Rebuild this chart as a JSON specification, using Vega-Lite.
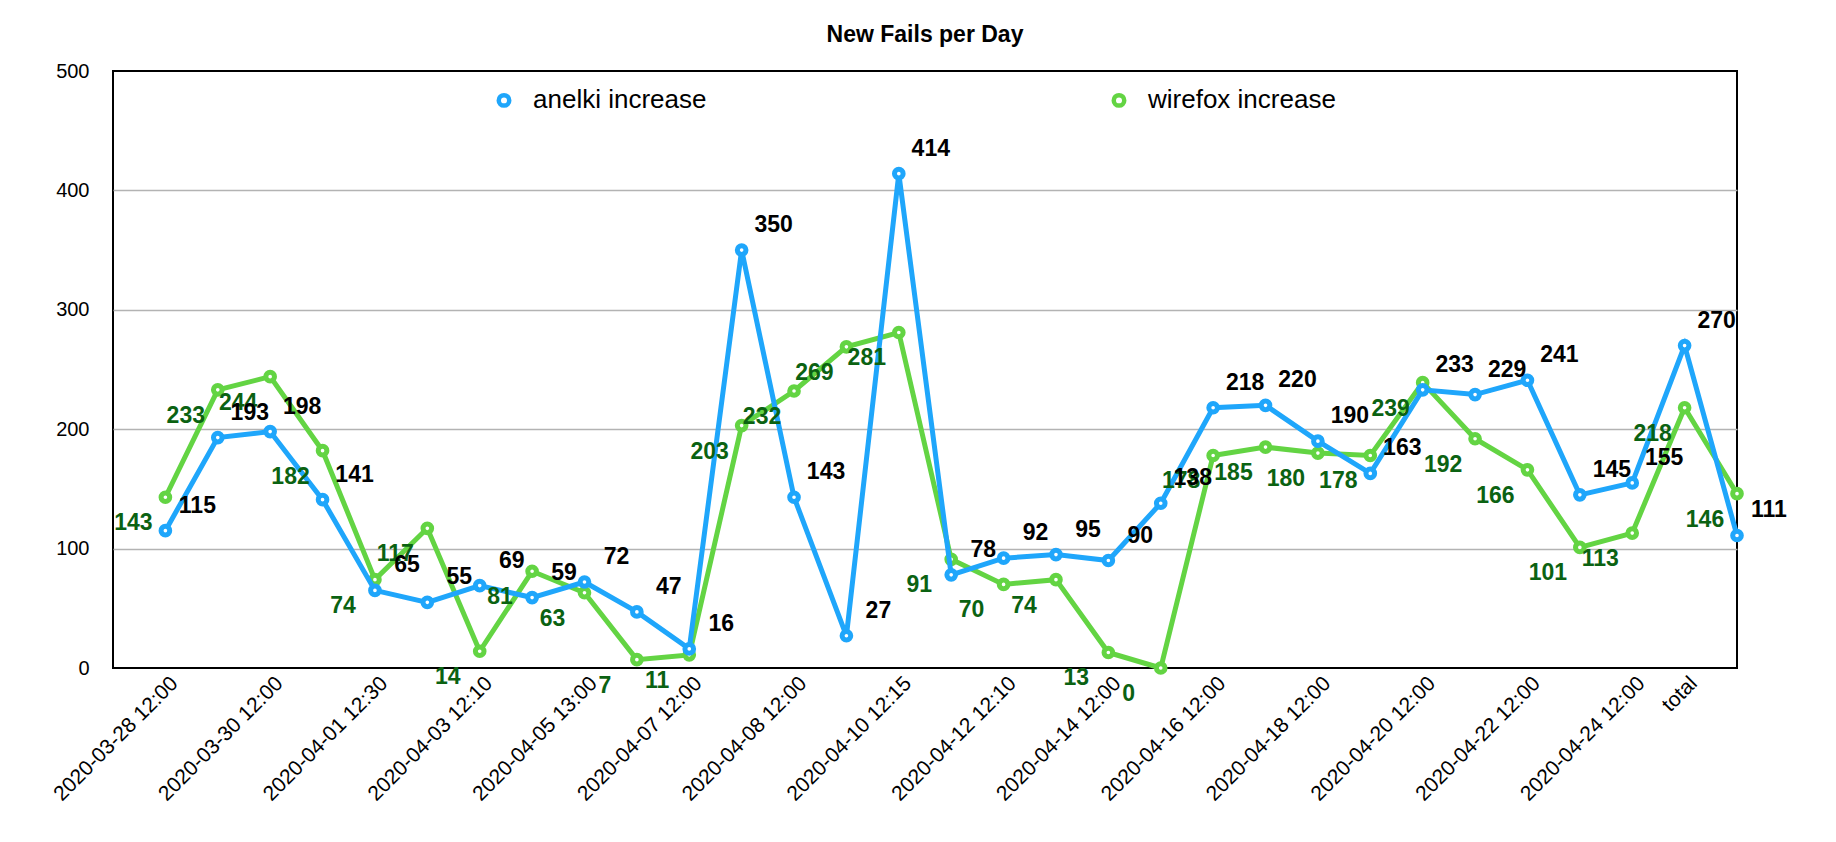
{
  "$schema": "https://vega.github.io/schema/vega-lite/v6.json",
  "width": 1624,
  "height": 597,
  "autosize": {"type": "none"},
  "padding": {"left": 113, "top": 71, "right": 99, "bottom": 174},
  "title": {
    "text": "New Fails per Day",
    "font": "Liberation Sans",
    "fontSize": 23,
    "fontWeight": "bold",
    "color": "black",
    "anchor": "middle",
    "baseline": "alphabetic",
    "offset": -4
  },
  "config": {
    "font": "Liberation Sans",
    "view": {"stroke": "black", "strokeWidth": 2}
  },
  "data": {
    "values": [
      {"time": "2020-03-28 12:00", "series": "anelki increase", "fails": 115},
      {"time": "2020-03-29 12:00", "series": "anelki increase", "fails": 193},
      {"time": "2020-03-30 12:00", "series": "anelki increase", "fails": 198},
      {"time": "2020-03-31 12:00", "series": "anelki increase", "fails": 141},
      {"time": "2020-04-01 12:30", "series": "anelki increase", "fails": 65},
      {"time": "2020-04-02 12:00", "series": "anelki increase", "fails": 55},
      {"time": "2020-04-03 12:10", "series": "anelki increase", "fails": 69},
      {"time": "2020-04-04 12:00", "series": "anelki increase", "fails": 59},
      {"time": "2020-04-05 13:00", "series": "anelki increase", "fails": 72},
      {"time": "2020-04-06 12:00", "series": "anelki increase", "fails": 47},
      {"time": "2020-04-07 12:00", "series": "anelki increase", "fails": 16},
      {"time": "2020-04-07 18:00", "series": "anelki increase", "fails": 350},
      {"time": "2020-04-08 12:00", "series": "anelki increase", "fails": 143},
      {"time": "2020-04-09 12:00", "series": "anelki increase", "fails": 27},
      {"time": "2020-04-10 12:15", "series": "anelki increase", "fails": 414},
      {"time": "2020-04-11 12:00", "series": "anelki increase", "fails": 78},
      {"time": "2020-04-12 12:10", "series": "anelki increase", "fails": 92},
      {"time": "2020-04-13 12:00", "series": "anelki increase", "fails": 95},
      {"time": "2020-04-14 12:00", "series": "anelki increase", "fails": 90},
      {"time": "2020-04-15 12:00", "series": "anelki increase", "fails": 138},
      {"time": "2020-04-16 12:00", "series": "anelki increase", "fails": 218},
      {"time": "2020-04-17 12:00", "series": "anelki increase", "fails": 220},
      {"time": "2020-04-18 12:00", "series": "anelki increase", "fails": 190},
      {"time": "2020-04-19 12:00", "series": "anelki increase", "fails": 163},
      {"time": "2020-04-20 12:00", "series": "anelki increase", "fails": 233},
      {"time": "2020-04-21 12:00", "series": "anelki increase", "fails": 229},
      {"time": "2020-04-22 12:00", "series": "anelki increase", "fails": 241},
      {"time": "2020-04-23 12:00", "series": "anelki increase", "fails": 145},
      {"time": "2020-04-24 12:00", "series": "anelki increase", "fails": 155},
      {"time": "total", "series": "anelki increase", "fails": 270},
      {"time": "2020-04-25 12:00", "series": "anelki increase", "fails": 111},
      {"time": "2020-03-28 12:00", "series": "wirefox increase", "fails": 143},
      {"time": "2020-03-29 12:00", "series": "wirefox increase", "fails": 233},
      {"time": "2020-03-30 12:00", "series": "wirefox increase", "fails": 244},
      {"time": "2020-03-31 12:00", "series": "wirefox increase", "fails": 182},
      {"time": "2020-04-01 12:30", "series": "wirefox increase", "fails": 74},
      {"time": "2020-04-02 12:00", "series": "wirefox increase", "fails": 117},
      {"time": "2020-04-03 12:10", "series": "wirefox increase", "fails": 14},
      {"time": "2020-04-04 12:00", "series": "wirefox increase", "fails": 81},
      {"time": "2020-04-05 13:00", "series": "wirefox increase", "fails": 63},
      {"time": "2020-04-06 12:00", "series": "wirefox increase", "fails": 7},
      {"time": "2020-04-07 12:00", "series": "wirefox increase", "fails": 11},
      {"time": "2020-04-07 18:00", "series": "wirefox increase", "fails": 203},
      {"time": "2020-04-08 12:00", "series": "wirefox increase", "fails": 232},
      {"time": "2020-04-09 12:00", "series": "wirefox increase", "fails": 269},
      {"time": "2020-04-10 12:15", "series": "wirefox increase", "fails": 281},
      {"time": "2020-04-11 12:00", "series": "wirefox increase", "fails": 91},
      {"time": "2020-04-12 12:10", "series": "wirefox increase", "fails": 70},
      {"time": "2020-04-13 12:00", "series": "wirefox increase", "fails": 74},
      {"time": "2020-04-14 12:00", "series": "wirefox increase", "fails": 13},
      {"time": "2020-04-15 12:00", "series": "wirefox increase", "fails": 0},
      {"time": "2020-04-16 12:00", "series": "wirefox increase", "fails": 178},
      {"time": "2020-04-17 12:00", "series": "wirefox increase", "fails": 185},
      {"time": "2020-04-18 12:00", "series": "wirefox increase", "fails": 180},
      {"time": "2020-04-19 12:00", "series": "wirefox increase", "fails": 178},
      {"time": "2020-04-20 12:00", "series": "wirefox increase", "fails": 239},
      {"time": "2020-04-21 12:00", "series": "wirefox increase", "fails": 192},
      {"time": "2020-04-22 12:00", "series": "wirefox increase", "fails": 166},
      {"time": "2020-04-23 12:00", "series": "wirefox increase", "fails": 101},
      {"time": "2020-04-24 12:00", "series": "wirefox increase", "fails": 113},
      {"time": "total", "series": "wirefox increase", "fails": 218},
      {"time": "2020-04-25 12:00", "series": "wirefox increase", "fails": 146}
    ]
  },
  "encoding": {
    "x": {
      "field": "time",
      "type": "nominal",
      "sort": null,
      "scale": {"type": "point", "padding": 0.5, "align": 1},
      "axis": {
        "title": null,
        "values": ["2020-03-28 12:00", "2020-03-30 12:00", "2020-04-01 12:30", "2020-04-03 12:10", "2020-04-05 13:00", "2020-04-07 12:00", "2020-04-08 12:00", "2020-04-10 12:15", "2020-04-12 12:10", "2020-04-14 12:00", "2020-04-16 12:00", "2020-04-18 12:00", "2020-04-20 12:00", "2020-04-22 12:00", "2020-04-24 12:00", "total"],
        "labelAngle": -45,
        "labelAlign": "right",
        "labelBaseline": "middle",
        "labelFontSize": 21,
        "labelColor": "black",
        "labelPadding": 12,
        "labelOffset": 9,
        "labelOverlap": false,
        "ticks": false,
        "domain": false,
        "grid": false
      }
    },
    "y": {
      "field": "fails",
      "type": "quantitative",
      "scale": {"domain": [0, 500], "nice": false},
      "axis": {
        "title": null,
        "values": [0, 100, 200, 300, 400, 500],
        "labelFontSize": 20,
        "labelColor": "black",
        "labelPadding": 24,
        "ticks": false,
        "domain": false,
        "gridColor": "#b3b3b3",
        "gridWidth": 1.5,
        "gridOpacity": {"condition": {"test": "datum.value == 0 || datum.value == 500", "value": 0}, "value": 1}
      }
    },
    "color": {
      "field": "series",
      "type": "nominal",
      "scale": {"domain": ["anelki increase", "wirefox increase"], "range": ["#1fa6fb", "#63d443"]},
      "legend": {
        "title": null,
        "orient": "none",
        "legendX": 378,
        "legendY": 16,
        "direction": "horizontal",
        "padding": 0,
        "labelFont": "Liberation Sans",
        "labelFontSize": 26,
        "labelColor": "black",
        "labelLimit": 400,
        "symbolType": "circle",
        "symbolSize": 110,
        "symbolFillColor": "white",
        "symbolStrokeWidth": 4.5,
        "labelOffset": 16,
        "columnPadding": 397
      }
    }
  },
  "layer": [
    {
      "transform": [{"filter": "datum.series == 'wirefox increase'"}],
      "mark": {"type": "line", "strokeWidth": 5}
    },
    {
      "transform": [{"filter": "datum.series == 'wirefox increase'"}],
      "mark": {"type": "point", "shape": "circle", "filled": false, "fill": "white", "size": 75, "strokeWidth": 5, "opacity": 1}
    },
    {
      "transform": [{"filter": "datum.series == 'anelki increase'"}],
      "mark": {"type": "line", "strokeWidth": 5}
    },
    {
      "transform": [{"filter": "datum.series == 'anelki increase'"}],
      "mark": {"type": "point", "shape": "circle", "filled": false, "fill": "white", "size": 75, "strokeWidth": 5, "opacity": 1}
    },
    {
      "transform": [{"filter": "datum.series == 'wirefox increase'"}],
      "mark": {"type": "text", "font": "Liberation Sans", "fontSize": 23, "fontWeight": "bold", "dx": -32, "dy": 26},
      "encoding": {"text": {"field": "fails", "type": "quantitative"}, "color": {"value": "#0b6212"}}
    },
    {
      "transform": [{"filter": "datum.series == 'anelki increase'"}],
      "mark": {"type": "text", "font": "Liberation Sans", "fontSize": 23, "fontWeight": "bold", "dx": 32, "dy": -25},
      "encoding": {"text": {"field": "fails", "type": "quantitative"}, "color": {"value": "black"}}
    }
  ]
}
